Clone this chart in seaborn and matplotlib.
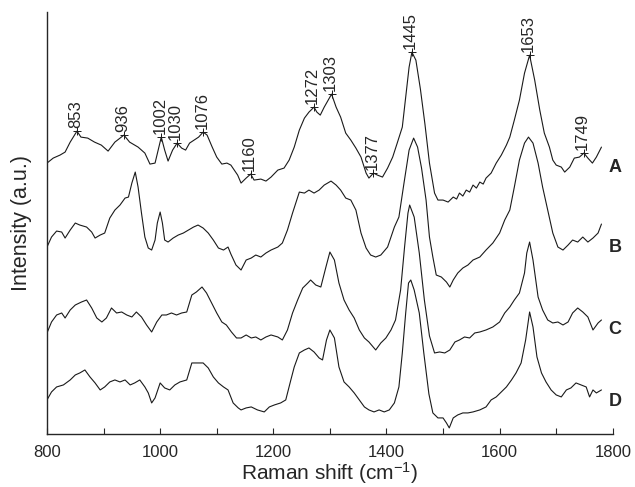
import numpy as np
import pandas as pd
import matplotlib.pyplot as plt
import seaborn as sns
from matplotlib.ticker import MultipleLocator

# Raman spectra A-D (intensities already stacked, a.u.)
a_shift = [800, 811, 823, 832, 841, 853, 860, 872, 884, 896, 908, 920, 936, 946, 961, 973, 982, 991,
           1002, 1008, 1014, 1022, 1030, 1038, 1045, 1052, 1060, 1068, 1076, 1083, 1092, 1100, 1109, 1118,
           1125, 1137, 1143, 1152, 1160, 1166, 1178, 1187, 1196, 1208, 1219, 1228, 1237, 1246, 1255, 1263,
           1272, 1277, 1283, 1290, 1303, 1311, 1319, 1328, 1337, 1346, 1355, 1364, 1369, 1377, 1384, 1393,
           1402, 1411, 1419, 1428, 1434, 1440, 1445, 1452, 1460, 1468, 1476, 1485, 1491, 1500, 1509, 1518,
           1524, 1529, 1535, 1541, 1547, 1553, 1559, 1565, 1571, 1576, 1585, 1594, 1603, 1612, 1618, 1626,
           1635, 1644, 1653, 1662, 1671, 1679, 1688, 1694, 1700, 1709, 1715, 1724, 1732, 1741, 1749, 1756,
           1764, 1771, 1780]
a_int = [271, 276, 279, 282, 292, 303, 297, 296, 292, 289, 283, 292, 299, 292, 287, 281, 270, 271,
         297, 284, 273, 284, 291, 286, 284, 291, 294, 297, 302, 299, 287, 277, 270, 271,
         269, 259, 251, 256, 260, 254, 255, 253, 257, 264, 266, 274, 287, 304, 316, 322,
         327, 322, 319, 327, 340, 327, 317, 301, 294, 286, 277, 261, 256, 261, 259, 257,
         266, 277, 291, 307, 337, 367, 382, 374, 345, 310, 271, 241, 234, 234, 232, 237,
         235, 241, 238, 244, 242, 249, 246, 252, 250, 256, 261, 271, 279, 289, 297, 314,
         334, 361, 379, 354, 324, 301, 287, 274, 269, 267, 262, 267, 276, 277, 281, 276,
         271, 277, 287]

b_shift = [800, 808, 817, 826, 832, 841, 850, 858, 870, 879, 885, 894, 902, 911, 920, 929, 938, 944,
           950, 956, 961, 967, 973, 979, 985, 991, 995, 1000, 1004, 1008, 1014, 1023, 1032, 1041, 1050,
           1059, 1067, 1076, 1085, 1094, 1103, 1112, 1120, 1125, 1134, 1143, 1152, 1161, 1169, 1178, 1187,
           1196, 1208, 1216, 1225, 1234, 1246, 1255, 1263, 1272, 1281, 1290, 1302, 1311, 1319, 1328, 1337,
           1346, 1355, 1364, 1372, 1381, 1390, 1402, 1414, 1422, 1431, 1440, 1448, 1455, 1462, 1470, 1476,
           1482, 1488, 1497, 1506, 1512, 1518, 1526, 1535, 1544, 1553, 1565, 1576, 1588, 1600, 1609, 1618,
           1626, 1635, 1644, 1651, 1659, 1668, 1676, 1685, 1694, 1703, 1712, 1721, 1729, 1738, 1747, 1756,
           1765, 1774, 1780]
b_int = [187, 197, 203, 202, 196, 204, 211, 209, 207, 202, 196, 199, 201, 216, 224, 229, 236, 237,
         251, 262, 247, 221, 197, 186, 184, 194, 211, 222, 211, 194, 192, 196, 199, 201, 204,
         207, 209, 206, 201, 194, 186, 184, 187, 180, 169, 164, 174, 176, 179, 177, 181,
         184, 187, 191, 204, 221, 242, 241, 244, 241, 244, 249, 253, 249, 244, 236, 234,
         224, 201, 186, 179, 177, 179, 187, 207, 217, 251, 284, 296, 287, 266, 234, 197,
         177, 159, 157, 152, 147, 154, 161, 166, 169, 174, 177, 184, 191, 201, 214, 224,
         247, 274, 291, 297, 291, 271, 247, 224, 201, 187, 184, 189, 194, 192, 197, 192,
         196, 201, 210]

c_shift = [800, 808, 817, 826, 832, 841, 850, 861, 870, 879, 888, 897, 905, 914, 923, 932, 941, 950,
           958, 967, 976, 985, 994, 1003, 1011, 1020, 1029, 1038, 1047, 1056, 1064, 1074, 1082, 1091,
           1100, 1109, 1117, 1126, 1135, 1143, 1152, 1161, 1169, 1178, 1187, 1196, 1208, 1216, 1225, 1234,
           1243, 1252, 1261, 1266, 1275, 1284, 1293, 1300, 1308, 1316, 1325, 1334, 1343, 1352, 1361, 1369,
           1381, 1390, 1399, 1408, 1416, 1425, 1432, 1438, 1441, 1449, 1458, 1467, 1476, 1485, 1494, 1503,
           1512, 1521, 1529, 1538, 1547, 1556, 1565, 1576, 1588, 1600, 1609, 1618, 1626, 1635, 1644, 1648,
           1653, 1659, 1668, 1676, 1685, 1694, 1703, 1712, 1721, 1729, 1738, 1747, 1756, 1765, 1774, 1780]
c_int = [101, 112, 119, 121, 116, 124, 129, 132, 134, 126, 116, 112, 116, 126, 121, 122, 119, 117,
         122, 117, 109, 102, 112, 119, 119, 121, 119, 121, 122, 139, 142, 147, 141, 131,
         121, 112, 109, 102, 96, 96, 99, 96, 97, 94, 97, 99, 97, 94, 104, 121,
         134, 146, 151, 154, 149, 147, 167, 182, 174, 151, 134, 124, 116, 104, 96, 92,
         84, 91, 96, 104, 114, 144, 187, 221, 229, 217, 181, 134, 98, 81, 82, 81,
         84, 92, 94, 97, 96, 101, 102, 104, 107, 112, 121, 127, 134, 141, 161, 181,
         192, 174, 137, 124, 114, 111, 112, 109, 112, 121, 126, 122, 117, 104, 111, 114]

d_shift = [800, 808, 817, 829, 841, 850, 858, 867, 876, 885, 894, 902, 911, 920, 929, 938, 947, 955,
           964, 973, 979, 985, 991, 1000, 1008, 1017, 1026, 1035, 1047, 1056, 1064, 1076, 1085, 1094,
           1103, 1112, 1120, 1129, 1138, 1143, 1152, 1161, 1172, 1184, 1193, 1202, 1213, 1222, 1231, 1237,
           1246, 1255, 1263, 1272, 1281, 1287, 1294, 1300, 1308, 1316, 1325, 1334, 1343, 1352, 1361, 1369,
           1378, 1387, 1396, 1405, 1414, 1422, 1428, 1434, 1439, 1443, 1449, 1458, 1466, 1475, 1482, 1491,
           1500, 1506, 1511, 1518, 1526, 1535, 1544, 1553, 1565, 1576, 1585, 1594, 1603, 1612, 1621, 1629,
           1638, 1646, 1653, 1659, 1666, 1674, 1682, 1691, 1700, 1709, 1718, 1726, 1735, 1744, 1753, 1759,
           1765, 1771, 1780]
d_int = [34, 42, 47, 49, 54, 59, 61, 64, 57, 51, 44, 47, 52, 54, 52, 54, 49, 51,
         54, 47, 41, 31, 36, 51, 46, 44, 49, 52, 54, 71, 71, 71, 66, 57,
         51, 47, 44, 31, 26, 24, 26, 27, 24, 22, 27, 29, 31, 34, 54, 67,
         81, 84, 86, 82, 76, 74, 94, 104, 96, 67, 52, 47, 41, 34, 27, 24,
         22, 24, 22, 24, 31, 47, 81, 121, 151, 154, 144, 121, 81, 40, 21, 16,
         16, 11, 6, 16, 19, 21, 21, 22, 24, 27, 34, 37, 42, 47, 54, 61,
         71, 94, 122, 107, 77, 61, 52, 44, 39, 37, 44, 46, 51, 49, 47, 37,
         44, 41, 44]

samples = ["A", "B", "C", "D"]
peaks_a = [853, 936, 1002, 1030, 1076, 1160, 1272, 1303, 1377, 1445, 1653, 1749]

spectra = {"A": (a_shift, a_int), "B": (b_shift, b_int),
           "C": (c_shift, c_int), "D": (d_shift, d_int)}
rows = []
for s, (xs, ys) in spectra.items():
    for x, y in zip(xs, ys):
        rows.append({"Sample": s, "Shift": x, "Intensity": y})
df = pd.DataFrame(rows)

sns.set_style("ticks")
plt.rcParams.update({
    "font.family": ["Liberation Sans", "DejaVu Sans"],
    "mathtext.fontset": "custom",
    "mathtext.rm": "Liberation Sans",
    "mathtext.it": "Liberation Sans",
    "axes.linewidth": 1.0,
})

fig = plt.figure(figsize=(6.35, 4.87), dpi=100)
ax = fig.add_axes([0.074, 0.109, 0.891, 0.866])

sns.lineplot(data=df, x="Shift", y="Intensity", hue="Sample", units="Sample",
             estimator=None, sort=False, palette=["#1a1a1a"] * 4, linewidth=0.8,
             legend=False, ax=ax)

# peak markers and labels on spectrum A
peak_y = np.interp(peaks_a, a_shift, a_int)
ax.plot(peaks_a, peak_y, "+", color="#1a1a1a", markersize=6, mew=0.7)
for p, y in zip(peaks_a, peak_y):
    ax.annotate(str(p), xy=(p, y), xytext=(-1, 2), textcoords="offset points",
                rotation=90, ha="center", va="bottom", fontsize=12)

# sample letters at the right end of each trace
for s in samples:
    xs, ys = spectra[s]
    ax.annotate(s, xy=(xs[-1], np.mean(ys[-6:])), xytext=(5, -8), textcoords="offset points",
                ha="left", va="center", fontsize=13, fontweight="bold")

ax.set_xlim(800, 1800)
ax.set_ylim(0, 422)
ax.set_xticks(range(800, 1801, 200))
ax.xaxis.set_minor_locator(MultipleLocator(100))
ax.tick_params(axis="x", which="both", direction="in", length=4, width=0.8, labelsize=12, pad=8)
ax.set_yticks([])
ax.set_xlabel(r"Raman shift (cm$^{-1}$)", fontsize=15, labelpad=0)
ax.set_ylabel("Intensity (a.u.)", fontsize=15.5, labelpad=11)
sns.despine(ax=ax)

fig.savefig("out.png", dpi=100)
